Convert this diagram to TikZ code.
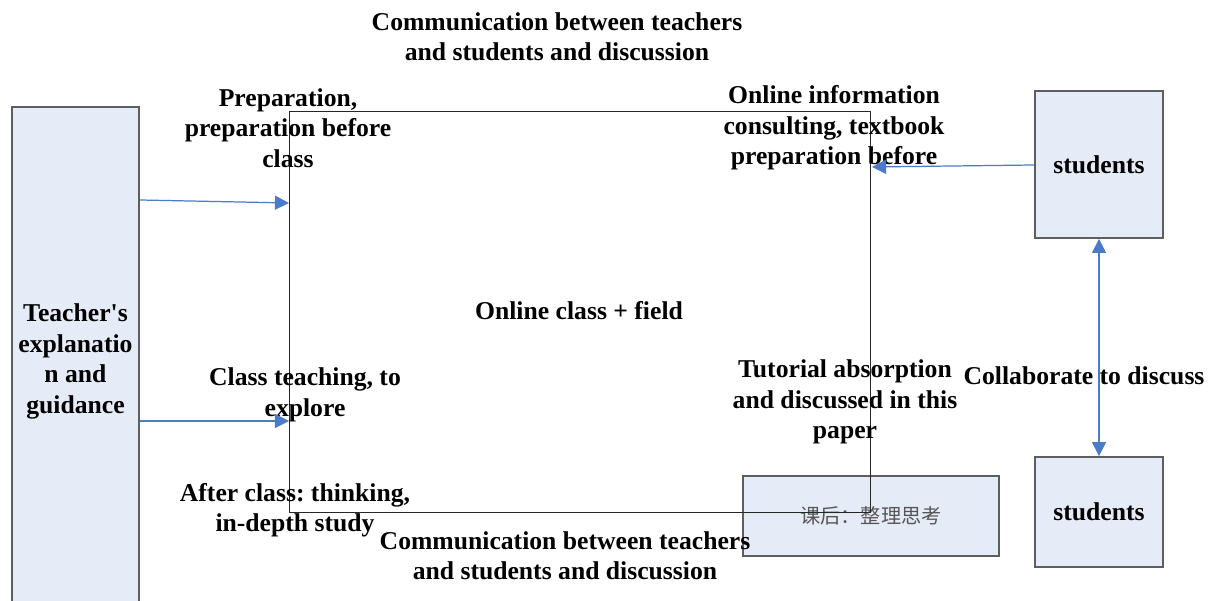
\documentclass[tikz,border=0pt]{standalone}
\usepackage{fontspec}
\setmainfont{Liberation Serif}
\newfontfamily\cjkfont{Noto Sans CJK SC}
\usepackage{tikz}
\usetikzlibrary{arrows.meta, positioning, calc}
\definecolor{boxblue}{HTML}{E6ECF7}
\definecolor{boxline}{HTML}{5E5E5E}
\definecolor{arrowblue}{HTML}{4A7BC8}
\definecolor{cjkgray}{HTML}{555555}
\frenchspacing

\tikzset{
  panel/.style={draw=boxline, line width=1pt, fill=boxblue, inner sep=0pt,
    font=\fontsize{14.6}{17.3}\selectfont\bfseries, align=center},
  lbl/.style={font=\fontsize{14.6}{17.3}\selectfont\bfseries, align=center, inner sep=0pt},
  flow/.style={draw=arrowblue, line width=0.7pt, -{Triangle[length=8pt, width=8pt]}},
  both/.style={draw=arrowblue, line width=0.7pt, {Triangle[length=8pt, width=8pt]}-{Triangle[length=8pt, width=8pt]}}
}

\begin{document}
\begin{tikzpicture}
  \useasboundingbox (0,0) rectangle (24.26,12.02);
  % Boxes
  \node[panel, minimum width=2.54cm, minimum height=10.18cm] (teacher) at (1.51,4.79)
    {Teacher\textquotesingle s\\explanatio\\n and\\guidance};
  \node[panel, minimum width=2.56cm, minimum height=2.94cm] (stuA) at (21.98,8.73) {students};
  \node[panel, minimum width=2.56cm, minimum height=2.2cm] (stuB) at (21.98,1.78) {students};
  \node[panel, minimum width=5.12cm, minimum height=1.6cm, font=\cjkfont\fontsize{11.5}{14}\selectfont,
    text=cjkgray] (after) at (17.42,1.7) {课后：整理思考};
  % Central frame
  \draw[line width=0.5pt, black!85] (5.78,9.8) rectangle (17.4,1.78);
  \coordinate (inA) at (5.78,7.96);
  \coordinate (inB) at (5.78,3.6);
  \coordinate (inC) at (17.44,8.68);
  % Labels
  \node[lbl] (commtop) at (11.14,11.28) {Communication between teachers\\and students and discussion};
  \node[lbl] (commbot) at (11.3,0.9) {Communication between teachers\\and students and discussion};
  \node[lbl] (prep) at (5.76,9.46) {Preparation,\\preparation before\\class};
  \node[lbl] (online) at (16.68,9.46) {Online information\\consulting, textbook\\preparation before};
  \node[lbl] (field) at (11.58,5.8) {Online class + field};
  \node[lbl] (teach) at (6.1,4.12) {Class teaching, to\\explore};
  \node[lbl] (tutor) at (16.9,3.98) {Tutorial absorption\\and discussed in this\\paper};
  \node[lbl] (think) at (5.9,1.82) {After class: thinking,\\in-depth study};
  \node[lbl] (collab) at (21.68,4.5) {Collaborate to discuss};
  % Connectors
  \draw[flow] (teacher.east |- 0,8.02) -- (inA);
  \draw[flow] (teacher.east |- inB) -- (inB);
  \draw[flow] (stuA.west |- 0,8.72) -- (inC);
  \draw[both] (stuA.south) -- (stuB.north);
\end{tikzpicture}
\end{document}
